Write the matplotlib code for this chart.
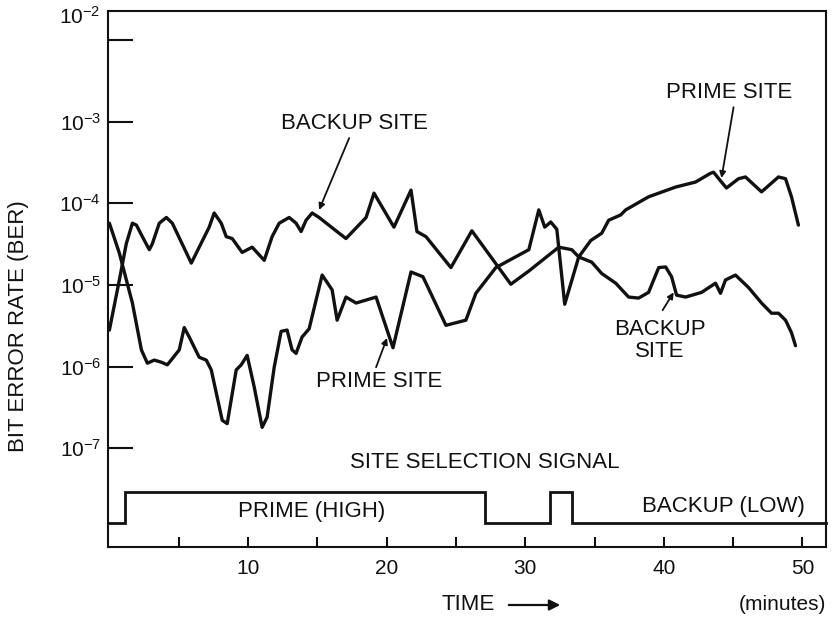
import matplotlib
matplotlib.use("Agg")
import matplotlib.pyplot as plt
import numpy as np

# ---------------- data ----------------
time_backup = [0.0, 0.72, 1.22, 1.66, 1.95, 2.38, 2.88, 3.10, 3.60, 4.11, 4.54, 5.91, 6.48,
               7.20, 7.56, 8.07, 8.43, 8.86, 9.58, 10.30, 11.17, 11.74, 12.25, 12.97, 13.47,
               13.83, 14.19, 14.63, 15.13, 16.57, 17.07, 18.52, 19.09, 20.53, 21.76, 22.19,
               22.84, 24.64, 26.15, 28.96, 30.26, 32.42, 33.36, 33.86, 34.80, 35.52, 36.53,
               37.46, 38.18, 38.90, 39.63, 40.13, 40.56, 40.92, 41.57, 42.72, 43.73, 44.09,
               44.45, 45.17, 46.11, 47.05, 47.77, 48.27, 48.78, 49.21, 49.50]
ber_backup = [2.8e-6, 1.15e-5, 3.2e-5, 5.7e-5, 5.4e-5, 3.9e-5, 2.7e-5, 3.2e-5, 5.7e-5, 6.7e-5,
              5.7e-5, 1.85e-5, 2.9e-5, 5.1e-5, 7.6e-5, 5.7e-5, 3.9e-5, 3.7e-5, 2.5e-5, 2.9e-5,
              2.0e-5, 3.9e-5, 5.7e-5, 6.7e-5, 5.7e-5, 4.5e-5, 6.2e-5, 7.6e-5, 6.7e-5, 4.3e-5,
              3.7e-5, 6.7e-5, 1.33e-4, 5.1e-5, 1.45e-4, 4.5e-5, 3.9e-5, 1.63e-5, 4.6e-5,
              1.02e-5, 1.48e-5, 2.9e-5, 2.7e-5, 2.2e-5, 1.9e-5, 1.38e-5, 1.05e-5, 7.1e-6,
              6.9e-6, 8.1e-6, 1.63e-5, 1.66e-5, 1.26e-5, 7.5e-6, 7.1e-6, 8.1e-6, 1.05e-5,
              7.9e-6, 1.15e-5, 1.32e-5, 9.3e-6, 6.0e-6, 4.5e-6, 4.5e-6, 3.7e-6, 2.6e-6, 1.8e-6]

time_prime = [0.0, 0.72, 1.66, 2.31, 2.74, 3.24, 3.75, 4.18, 5.04, 5.40, 5.76, 6.48, 6.99,
              7.35, 8.14, 8.50, 9.15, 9.51, 9.94, 10.45, 11.02, 11.38, 11.89, 12.39, 12.82,
              13.18, 13.47, 13.90, 14.41, 15.35, 16.07, 16.43, 17.07, 17.80, 19.24, 20.46,
              21.76, 22.62, 24.28, 25.72, 26.44, 27.88, 30.26, 30.98, 31.41, 31.84, 32.28,
              32.85, 33.86, 34.73, 35.52, 36.02, 36.89, 37.25, 38.90, 40.85, 42.29, 43.37,
              43.59, 44.16, 44.52, 45.39, 45.89, 47.05, 48.27, 48.78, 49.21, 49.71]
ber_prime = [5.7e-5, 2.45e-5, 6.0e-6, 1.6e-6, 1.1e-6, 1.2e-6, 1.13e-6, 1.05e-6, 1.6e-6, 3.0e-6,
             2.3e-6, 1.3e-6, 1.2e-6, 9.1e-7, 2.2e-7, 2.0e-7, 9.1e-7, 1.05e-6, 1.37e-6, 5.6e-7,
             1.8e-7, 2.4e-7, 9.8e-7, 2.7e-6, 2.8e-6, 1.6e-6, 1.45e-6, 2.3e-6, 2.9e-6, 1.32e-5,
             8.7e-6, 3.7e-6, 7.1e-6, 6.0e-6, 7.1e-6, 1.7e-6, 1.44e-5, 1.26e-5, 3.2e-6, 3.7e-6,
             7.9e-6, 1.63e-5, 2.7e-5, 8.3e-5, 5.1e-5, 5.9e-5, 4.8e-5, 5.8e-6, 2.2e-5, 3.5e-5,
             4.3e-5, 6.2e-5, 7.2e-5, 8.3e-5, 1.2e-4, 1.58e-4, 1.82e-4, 2.33e-4, 2.4e-4,
             1.82e-4, 1.54e-4, 2.0e-4, 2.1e-4, 1.38e-4, 2.1e-4, 2.0e-4, 1.2e-4, 5.4e-5]

# site selection signal: switching instants (minutes) and state between them
switch_times = [1.1, 27.1, 31.8, 33.4]
signal_states = ["LOW", "HIGH", "LOW", "HIGH", "LOW"]
signal_level = {"HIGH": 2.9e-8, "LOW": 1.2e-8}

y_tick_exponents = [-7, -6, -5, -4, -3]
x_major_ticks = [10, 20, 30, 40, 50]
x_minor_ticks = [5, 15, 25, 35, 45]

# ---------------- style ----------------
plt.rcParams["font.family"] = ["Liberation Sans", "DejaVu Sans"]
plt.rcParams["mathtext.fontset"] = "custom"
plt.rcParams["mathtext.rm"] = "Liberation Sans"
plt.rcParams["mathtext.it"] = "Liberation Sans:italic"
plt.rcParams["mathtext.bf"] = "Liberation Sans:bold"

INK = "#111111"
W, H = 833, 618
fig = plt.figure(figsize=(W / 100, H / 100), dpi=100)
ax = fig.add_axes([108 / W, (H - 547) / H, (826 - 108) / W, (547 - 11) / H])

XMIN, XMAX = -0.1, 51.7
ax.set_xlim(XMIN, XMAX)
ax.set_yscale("log")
ax.set_ylim(10 ** -8.21, 10 ** -1.645)

# curves
ax.plot(time_backup, ber_backup, color=INK, lw=2.4, solid_joinstyle="round",
        solid_capstyle="round")
ax.plot(time_prime, ber_prime, color=INK, lw=2.4, solid_joinstyle="round",
        solid_capstyle="round")

# selection signal
edges = [XMIN] + switch_times + [XMAX]
sx, sy = [], []
for i, st in enumerate(signal_states):
    sx += [edges[i], edges[i + 1]]
    sy += [signal_level[st], signal_level[st]]
ax.plot(sx, sy, color=INK, lw=2.0, solid_joinstyle="miter", clip_on=False)

# axes styling
for s in ax.spines.values():
    s.set_linewidth(1.5)
    s.set_color(INK)

ax.set_yticks([10.0 ** e for e in y_tick_exponents] + [1e-2])
ax.set_yticklabels([r"$10^{%d}$" % e for e in y_tick_exponents] + [""])
ax.yaxis.set_minor_locator(matplotlib.ticker.NullLocator())
ax.tick_params(axis="y", which="major", direction="in", length=18, width=1.5,
               labelsize=15, pad=5, colors=INK)
ax.text(-0.011, 0.989, r"$10^{-2}$", transform=ax.transAxes, ha="right",
        va="center", fontsize=15, color=INK)

ax.set_xticks(x_major_ticks)
ax.set_xticklabels([str(v) for v in x_major_ticks])
ax.set_xticks(x_minor_ticks, minor=True)
ax.tick_params(axis="x", which="both", direction="in", length=7, width=1.5,
               labelsize=15, pad=9, colors=INK)

# annotations
apr = dict(arrowstyle="-|>", lw=1.3, color=INK, mutation_scale=9,
           shrinkA=0, shrinkB=0)
fs = 16
ax.annotate("", xy=(15.13, 8.3e-5), xytext=(17.3, 6.3e-4), arrowprops=apr)
ax.text(17.65, 9.5e-4, "BACKUP SITE", fontsize=fs, color=INK, ha="center", va="center")

ax.annotate("", xy=(20.03, 2.24e-6), xytext=(19.24, 9.8e-7), arrowprops=apr)
ax.text(19.45, 6.5e-7, "PRIME SITE", fontsize=fs, color=INK, ha="center", va="center")

ax.annotate("", xy=(44.16, 2.04e-4), xytext=(45.03, 1.5e-3), arrowprops=apr)
ax.text(44.74, 2.3e-3, "PRIME SITE", fontsize=fs, color=INK, ha="center", va="center")

ax.annotate("", xy=(40.71, 8.1e-6), xytext=(39.91, 4.9e-6), arrowprops=apr)
ax.text(39.7, 2.1e-6, "BACKUP\nSITE", fontsize=fs, color=INK, ha="center",
        va="center", linespacing=1.05)

ax.text(27.1, 10 ** -7.18, "SITE SELECTION SIGNAL", fontsize=fs, color=INK,
        ha="center", va="center")
ax.text(14.6, 10 ** -7.77, "PRIME (HIGH)", fontsize=fs, color=INK, ha="center",
        va="center")
ax.text(44.3, 10 ** -7.72, "BACKUP (LOW)", fontsize=fs, color=INK, ha="center",
        va="center")

# axis titles
fig.text(19 / W, 1 - 326 / H, "BIT ERROR RATE (BER)", rotation=90, fontsize=16,
         color=INK, ha="center", va="center")
fig.text(441 / W, 1 - 605 / H, "TIME", fontsize=16, color=INK, ha="left", va="center")
fig.add_artist(matplotlib.patches.FancyArrowPatch(
    (506 / W, 1 - 605 / H), (563 / W, 1 - 605 / H), transform=fig.transFigure,
    arrowstyle="-|>", mutation_scale=16, lw=1.6, color=INK))
fig.text(826 / W, 1 - 605 / H, "(minutes)", fontsize=15, color=INK, ha="right",
         va="center")

fig.savefig("out.png", dpi=100, facecolor="white")
